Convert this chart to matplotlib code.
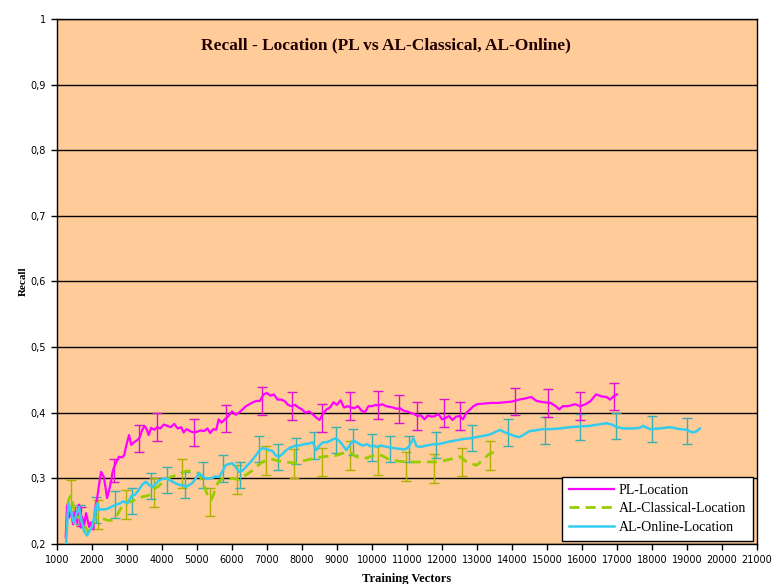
import numpy as np
import matplotlib
matplotlib.use("Agg")
import matplotlib.pyplot as plt

# PL-Location
pl_x = [1250, 1290, 1340, 1400, 1460, 1520, 1580, 1630, 1680, 1720, 1780, 1830, 1880, 1920, 1970,
        2040, 2090, 2150, 2200, 2260, 2340, 2390, 2430, 2480, 2540, 2590, 2630, 2700, 2770, 2850,
        2920, 2980, 3060, 3120, 3200, 3290, 3360, 3430, 3500, 3570, 3620, 3690, 3780, 3860, 3950,
        4050, 4150, 4250, 4350, 4450, 4550, 4620, 4700, 4800, 4900, 5000, 5100, 5200, 5300, 5380,
        5460, 5550, 5620, 5700, 5800, 5900, 6000, 6100, 6200, 6300, 6400, 6500, 6600, 6700, 6800,
        6900, 7000, 7100, 7200, 7300, 7400, 7500, 7600, 7700, 7800, 7900, 8000, 8100, 8200, 8300,
        8400, 8500, 8600, 8700, 8800, 8900, 9000, 9100, 9200, 9300, 9400, 9500, 9600, 9700, 9800,
        9900, 10000, 10100, 10200, 10300, 10400, 10500, 10600, 10700, 10800, 10900, 11000, 11100,
        11200, 11300, 11400, 11500, 11600, 11700, 11800, 11900, 12000, 12100, 12200, 12300, 12400,
        12500, 12600, 12700, 12800, 12900, 13000, 13200, 13400, 13600, 13800, 14000, 14200, 14400,
        14550, 14700, 14900, 15100, 15250, 15350, 15450, 15600, 15800, 15950, 16100, 16250, 16400,
        16550, 16700, 16800, 16900, 17000]
pl_y = [0.210, 0.259, 0.240, 0.250, 0.230, 0.255, 0.232, 0.260, 0.225, 0.241, 0.230, 0.247, 0.235,
        0.226, 0.233, 0.222, 0.255, 0.270, 0.290, 0.310, 0.302, 0.285, 0.270, 0.280, 0.294, 0.310,
        0.317, 0.325, 0.333, 0.332, 0.335, 0.350, 0.366, 0.351, 0.355, 0.358, 0.362, 0.373, 0.380,
        0.374, 0.366, 0.377, 0.374, 0.378, 0.376, 0.382, 0.380, 0.378, 0.383, 0.376, 0.378, 0.370,
        0.375, 0.372, 0.370, 0.371, 0.373, 0.372, 0.376, 0.369, 0.375, 0.374, 0.390, 0.385, 0.390,
        0.395, 0.402, 0.397, 0.400, 0.405, 0.410, 0.413, 0.416, 0.418, 0.418, 0.428, 0.430, 0.426,
        0.428, 0.420, 0.420, 0.418, 0.412, 0.410, 0.412, 0.408, 0.405, 0.400, 0.402, 0.398, 0.393,
        0.389, 0.398, 0.405, 0.408, 0.416, 0.412, 0.419, 0.408, 0.410, 0.408, 0.407, 0.410, 0.403,
        0.401, 0.410, 0.410, 0.412, 0.411, 0.413, 0.410, 0.409, 0.408, 0.406, 0.407, 0.403, 0.402,
        0.400, 0.398, 0.395, 0.396, 0.390, 0.396, 0.394, 0.395, 0.398, 0.390, 0.392, 0.395, 0.389,
        0.394, 0.395, 0.390, 0.400, 0.405, 0.410, 0.413, 0.414, 0.415, 0.415, 0.416, 0.417, 0.420,
        0.422, 0.424, 0.418, 0.416, 0.415, 0.410, 0.405, 0.410, 0.410, 0.413, 0.410, 0.413, 0.418,
        0.428, 0.425, 0.424, 0.420, 0.425, 0.428]

# AL-Classical-Location
cl_x = [1300, 1350, 1400, 1450, 1500, 1550, 1600, 1650, 1700, 1750, 1800, 1850, 1900, 1950, 2000,
        2080, 2150, 2250, 2350, 2450, 2540, 2620, 2700, 2780, 2870, 2960, 3050, 3150, 3240, 3330,
        3450, 3620, 3700, 3800, 3900, 4000, 4110, 4250, 4400, 4550, 4680, 4780, 4900, 5060, 5150,
        5250, 5330, 5400, 5470, 5540, 5620, 5730, 5850, 6010, 6100, 6200, 6300, 6450, 6580, 6700,
        6870, 7000, 7150, 7300, 7530, 7680, 7830, 8000, 8210, 8400, 8600, 8800, 8980, 9150, 9360,
        9450, 9550, 9700, 9840, 10000, 10180, 10350, 10510, 10800, 11080, 11400, 11840, 12050,
        12230, 12380, 12510, 12620, 12700, 12850, 12990, 13100, 13180, 13280, 13370, 13500, 13610]
cl_y = [0.260, 0.270, 0.274, 0.262, 0.250, 0.248, 0.240, 0.243, 0.235, 0.232, 0.228, 0.222, 0.218,
        0.225, 0.225, 0.240, 0.241, 0.240, 0.238, 0.236, 0.236, 0.237, 0.242, 0.250, 0.259, 0.262,
        0.264, 0.265, 0.268, 0.271, 0.272, 0.274, 0.280, 0.285, 0.288, 0.293, 0.298, 0.302, 0.305,
        0.308, 0.311, 0.311, 0.309, 0.308, 0.295, 0.282, 0.270, 0.267, 0.275, 0.287, 0.295, 0.300,
        0.300, 0.300, 0.299, 0.298, 0.302, 0.307, 0.312, 0.318, 0.325, 0.328, 0.329, 0.327, 0.325,
        0.324, 0.323, 0.326, 0.329, 0.331, 0.333, 0.334, 0.335, 0.338, 0.340, 0.337, 0.333, 0.331,
        0.331, 0.334, 0.337, 0.333, 0.328, 0.326, 0.325, 0.325, 0.325, 0.327, 0.329, 0.331, 0.333,
        0.329, 0.325, 0.322, 0.320, 0.325, 0.329, 0.334, 0.338, 0.340, 0.340]

# AL-Online-Location
on_x = [1260, 1300, 1330, 1400, 1450, 1490, 1550, 1630, 1700, 1770, 1860, 1930, 2000, 2060, 2110,
        2150, 2200, 2300, 2400, 2500, 2600, 2700, 2800, 2900, 3010, 3140, 3230, 3330, 3430, 3540,
        3630, 3730, 3820, 3920, 4010, 4110, 4200, 4300, 4400, 4490, 4580, 4680, 4780, 4870, 4970,
        5060, 5160, 5250, 5350, 5450, 5530, 5630, 5720, 5820, 5910, 6010, 6100, 6200, 6300, 6390,
        6480, 6580, 6680, 6780, 6870, 6960, 7060, 7150, 7250, 7340, 7440, 7530, 7630, 7720, 7820,
        7930, 8050, 8200, 8310, 8410, 8500, 8600, 8700, 8800, 8900, 8980, 9100, 9200, 9270, 9360,
        9460, 9560, 9650, 9750, 9850, 9950, 10050, 10130, 10250, 10350, 10510, 10650, 10800, 10940,
        11050, 11130, 11180, 11230, 11270, 11400, 11550, 11750, 11900, 12050, 12200, 12420, 12600,
        12800, 13000, 13200, 13370, 13500, 13650, 13800, 13950, 14100, 14220, 14350, 14500, 14650,
        14880, 15100, 15360, 15650, 15950, 16220, 16450, 16700, 16850, 17000, 17200, 17450, 17650,
        17740, 17940, 18200, 18510, 18800, 19000, 19140, 19250, 19370]
on_y = [0.200, 0.240, 0.262, 0.250, 0.238, 0.232, 0.245, 0.256, 0.235, 0.220, 0.213, 0.220, 0.226,
        0.240, 0.256, 0.262, 0.252, 0.253, 0.253, 0.255, 0.258, 0.260, 0.262, 0.265, 0.262, 0.274,
        0.275, 0.282, 0.290, 0.295, 0.290, 0.287, 0.292, 0.297, 0.299, 0.300, 0.298, 0.295, 0.292,
        0.290, 0.290, 0.287, 0.290, 0.293, 0.300, 0.308, 0.303, 0.300, 0.300, 0.301, 0.303, 0.302,
        0.310, 0.320, 0.322, 0.323, 0.318, 0.310, 0.312, 0.317, 0.322, 0.328, 0.335, 0.342, 0.346,
        0.345, 0.343, 0.342, 0.335, 0.333, 0.337, 0.342, 0.346, 0.348, 0.350, 0.350, 0.352, 0.353,
        0.355, 0.343, 0.350, 0.355, 0.355, 0.357, 0.360, 0.361, 0.355, 0.348, 0.343, 0.350, 0.358,
        0.355, 0.352, 0.350, 0.352, 0.349, 0.350, 0.348, 0.350, 0.349, 0.347, 0.346, 0.345, 0.344,
        0.348, 0.356, 0.361, 0.355, 0.349, 0.348, 0.350, 0.352, 0.352, 0.354, 0.356, 0.358, 0.360,
        0.361, 0.363, 0.365, 0.367, 0.370, 0.374, 0.370, 0.367, 0.364, 0.363, 0.367, 0.372, 0.373,
        0.375, 0.375, 0.376, 0.378, 0.379, 0.380, 0.382, 0.384, 0.382, 0.378, 0.376, 0.376, 0.377,
        0.380, 0.375, 0.376, 0.378, 0.375, 0.374, 0.370, 0.371, 0.376]

# error bars (position, centre, half width)
pl_ex = [1690, 2630, 3350, 3860, 4920, 5840, 6870, 7720, 8580, 9380, 10180, 10760, 11300, 12070,
         12500, 14090, 15040, 15940, 16910]
pl_ey = [0.242, 0.312, 0.361, 0.378, 0.370, 0.391, 0.418, 0.410, 0.392, 0.410, 0.412, 0.406, 0.395,
         0.400, 0.395, 0.417, 0.415, 0.410, 0.425]
pl_ee = [0.014, 0.018, 0.021, 0.021, 0.020, 0.021, 0.021, 0.021, 0.021, 0.021, 0.021, 0.021, 0.021,
         0.021, 0.021, 0.021, 0.021, 0.021, 0.021]

on_ex = [1650, 2125, 2660, 3150, 3680, 4140, 4660, 5160, 5750, 6240, 6780, 7310, 7820, 8330, 8970,
         9450, 10010, 10520, 11050, 11830, 12860, 13880, 14930, 15950, 16960, 17990, 18990]
on_ey = [0.245, 0.252, 0.260, 0.265, 0.288, 0.298, 0.290, 0.305, 0.315, 0.305, 0.345, 0.333, 0.342,
         0.350, 0.358, 0.355, 0.347, 0.345, 0.345, 0.351, 0.362, 0.370, 0.373, 0.378, 0.380, 0.375,
         0.372]
on_ee = [0.015, 0.020, 0.020, 0.020, 0.020, 0.020, 0.020, 0.020, 0.020, 0.020, 0.020, 0.020, 0.020,
         0.020, 0.020, 0.020, 0.020, 0.020, 0.020, 0.020, 0.020, 0.020, 0.020, 0.020, 0.020, 0.020,
         0.020]

cl_ex = [1400, 2160, 2960, 3770, 4570, 5360, 6150, 6960, 7770, 8580, 9370, 10170, 10970, 11760,
         12560, 13360]
cl_ey = [0.274, 0.245, 0.260, 0.278, 0.308, 0.264, 0.298, 0.327, 0.322, 0.325, 0.335, 0.327, 0.318,
         0.315, 0.325, 0.335]
cl_ee = [0.023, 0.022, 0.022, 0.022, 0.022, 0.022, 0.022, 0.022, 0.022, 0.022, 0.022, 0.022, 0.022,
         0.022, 0.022, 0.022]

x_ticks = list(range(1000, 21001, 1000))
y_ticks = [0.2, 0.3, 0.4, 0.5, 0.6, 0.7, 0.8, 0.9, 1.0]
y_labels = ["0,2", "0,3", "0,4", "0,5", "0,6", "0,7", "0,8", "0,9", "1"]

serif = ["Liberation Serif", "DejaVu Serif"]

fig = plt.figure(figsize=(7.72, 5.84), dpi=100)
ax = fig.add_axes([0.0738, 0.0685, 0.9068, 0.899])
ax.set_facecolor("#FFCC99")

for y in y_ticks:
    ax.axhline(y, color="black", lw=1, zorder=1)

ax.errorbar(cl_ex, cl_ey, yerr=cl_ee, fmt="none", ecolor="#B0B000", elinewidth=1, capsize=3.5, zorder=2)
ax.errorbar(on_ex, on_ey, yerr=on_ee, fmt="none", ecolor="#3AB0B0", elinewidth=1, capsize=3.5, zorder=2)
ax.errorbar(pl_ex, pl_ey, yerr=pl_ee, fmt="none", ecolor="#E010D0", elinewidth=1, capsize=3.5, zorder=2)

ax.plot(pl_x, pl_y, color="#FF00FF", lw=1.6, label="PL-Location", zorder=3)
ax.plot(cl_x, cl_y, color="#99CC00", lw=2.0, ls=(0, (3.6, 2.2)), label="AL-Classical-Location", zorder=3)
ax.plot(on_x, on_y, color="#33CCEE", lw=1.8, label="AL-Online-Location", zorder=3)

ax.set_xlim(1000, 21000)
ax.set_ylim(0.2, 1.0)
ax.set_xticks(x_ticks)
ax.set_xticklabels([str(v) for v in x_ticks], fontsize=7)
ax.set_yticks(y_ticks)
ax.set_yticklabels(y_labels, fontsize=7)
ax.tick_params(direction="out", length=4, width=1, pad=4)
for s in ax.spines.values():
    s.set_color("black")
    s.set_linewidth(1)

ax.set_xlabel("Training Vectors", fontsize=9, fontweight="bold", family=serif, labelpad=6)
ax.set_ylabel("Recall", fontsize=8, fontweight="bold", family=serif, labelpad=2)
ax.text(0.47, 0.95, "Recall - Location (PL vs AL-Classical, AL-Online)", transform=ax.transAxes,
        ha="center", va="center", fontsize=12.5, fontweight="bold", family=serif, color="#200000")

leg = ax.legend(loc="lower right", bbox_to_anchor=(0.994, 0.006), borderaxespad=0,
                prop={"family": serif, "size": 10}, fancybox=False, framealpha=1, edgecolor="black",
                handlelength=3.3, labelspacing=0.4, borderpad=0.5, handletextpad=0.3)
leg.get_frame().set_linewidth(1)

fig.savefig("out.png", dpi=100)
